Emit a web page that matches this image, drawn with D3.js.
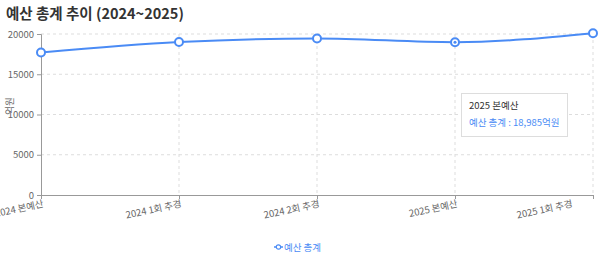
<!DOCTYPE html>
<html>
<head>
<meta charset="utf-8">
<script src="https://cdn.jsdelivr.net/npm/d3@7"></script>
<style>
  body { margin: 0; background: #fff; font-family: "Noto Sans CJK KR", "Noto Sans", sans-serif; }
  #chart { position: relative; width: 600px; height: 256px; }
  .tip { position: absolute; left: 461px; top: 93px; width: 107px; height: 44px; background: #fff;
         border: 1px solid #ddd; box-sizing: border-box; padding: 5px 7px; font-size: 9.5px; line-height: 13px; }
  .tip .t1 { color: #333; margin-bottom: 4px; }
  .tip .t2 { color: #4a8bf5; white-space: nowrap; }
</style>
</head>
<body>
<div id="chart"></div>
<script>
var categories = ["2024 본예산", "2024 1회 추경", "2024 2회 추경", "2025 본예산", "2025 1회 추경"];
var totals = [17700, 19000, 19450, 18985, 20100];
var yTicks = [0, 5000, 10000, 15000, 20000];
var seriesName = "예산 총계";
var activeIndex = 3;

var width = 600, height = 256;
var margin = { left: 41, right: 7, top: 34, bottom: 61 };
var blue = "#4a8bf5";

var svg = d3.select("#chart").append("svg")
  .attr("width", width)
  .attr("height", height);

svg.append("text")
  .attr("x", 6).attr("y", 19)
  .attr("font-size", 14.5).attr("font-weight", "bold").attr("fill", "#333")
  .text("예산 총계 추이 (2024~2025)");

var x = d3.scalePoint().domain(categories).range([margin.left, width - margin.right]);
var y = d3.scaleLinear().domain([0, 20000]).range([height - margin.bottom, margin.top]);

// grid
svg.append("g").selectAll("line").data(yTicks.slice(1)).enter().append("line")
  .attr("x1", margin.left).attr("x2", width - margin.right)
  .attr("y1", d => y(d)).attr("y2", d => y(d))
  .attr("stroke", "#ddd").attr("stroke-dasharray", "3 3");
svg.append("g").selectAll("line").data(categories.slice(1)).enter().append("line")
  .attr("x1", d => x(d)).attr("x2", d => x(d))
  .attr("y1", margin.top).attr("y2", height - margin.bottom)
  .attr("stroke", "#ddd").attr("stroke-dasharray", "3 3");

// axes
var yAxis = svg.append("g")
  .attr("transform", "translate(" + margin.left + ",0)")
  .call(d3.axisLeft(y).tickValues(yTicks).tickFormat(d3.format("d")).tickSize(4).tickSizeOuter(4));
yAxis.selectAll("text").attr("font-size", 9.5).attr("fill", "#666").attr("font-family", "Noto Sans CJK KR, sans-serif");
yAxis.selectAll("line, path").attr("stroke", "#999");

var xAxis = svg.append("g")
  .attr("transform", "translate(0," + (height - margin.bottom) + ")")
  .call(d3.axisBottom(x).tickSize(4).tickSizeOuter(0));
xAxis.selectAll("line, path").attr("stroke", "#999");
xAxis.selectAll("text")
  .attr("font-size", 9.5).attr("fill", "#666").attr("font-family", "Noto Sans CJK KR, sans-serif")
  .attr("text-anchor", "end")
  .attr("y", 0).attr("dy", "0.3em")
  .attr("transform", function (d, i) {
    // keep the last label inside the chart
    var shift = i === categories.length - 1 ? -21 : 2;
    return "translate(" + shift + ",9) rotate(-12)";
  });

svg.append("text")
  .attr("transform", "translate(13,106) rotate(-90)")
  .attr("text-anchor", "middle")
  .attr("font-size", 9.5).attr("fill", "#666")
  .text("억원");

// line
var line = d3.line()
  .x((d, i) => x(categories[i]))
  .y(d => y(d))
  .curve(d3.curveMonotoneX);

svg.append("path")
  .datum(totals)
  .attr("d", line)
  .attr("fill", "none")
  .attr("stroke", blue)
  .attr("stroke-width", 2);

svg.append("g").selectAll("circle").data(totals).enter().append("circle")
  .attr("cx", (d, i) => x(categories[i]))
  .attr("cy", d => y(d))
  .attr("r", 4)
  .attr("fill", "#fff")
  .attr("stroke", blue)
  .attr("stroke-width", 2);

svg.append("circle")
  .attr("cx", x(categories[activeIndex]))
  .attr("cy", y(totals[activeIndex]))
  .attr("r", 1.5)
  .attr("fill", blue);

// legend
var lg = svg.append("g").attr("transform", "translate(274,247)");
lg.append("line").attr("x1", 0).attr("x2", 9).attr("y1", 0).attr("y2", 0)
  .attr("stroke", blue).attr("stroke-width", 1.5);
lg.append("circle").attr("cx", 4.5).attr("cy", 0).attr("r", 2.2)
  .attr("fill", "#fff").attr("stroke", blue).attr("stroke-width", 1.2);
lg.append("text").attr("x", 10).attr("y", 3.5)
  .attr("font-size", 9.5).attr("fill", blue).text(seriesName);

// tooltip
var tip = d3.select("#chart").append("div").attr("class", "tip");
tip.append("div").attr("class", "t1").text(categories[activeIndex]);
tip.append("div").attr("class", "t2").text(seriesName + " : " + d3.format(",")(totals[activeIndex]) + "억원");
</script>
</body>
</html>
